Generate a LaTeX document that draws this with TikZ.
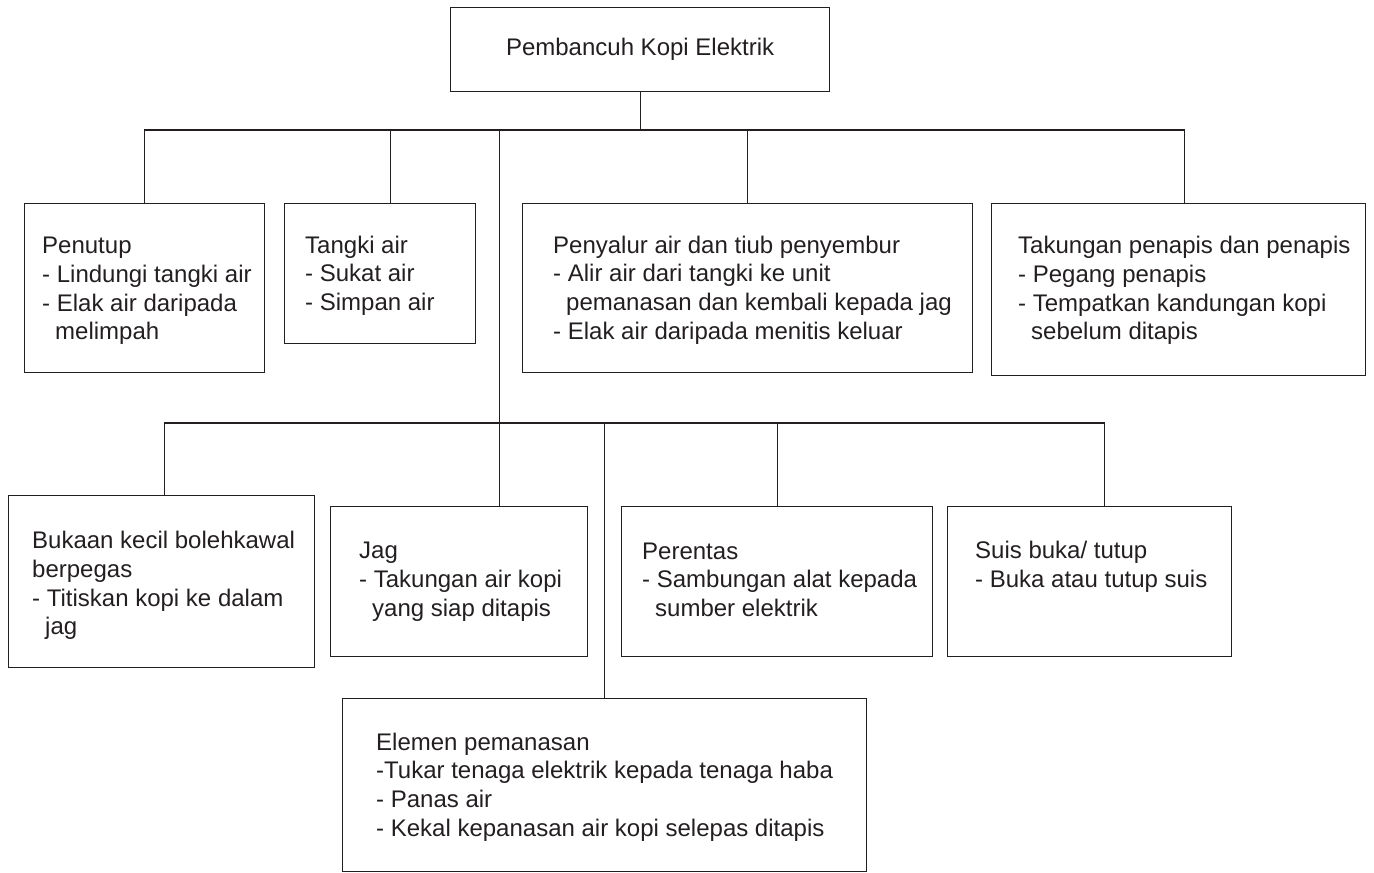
\documentclass[tikz,border=0pt]{standalone}
\usepackage{fontspec}
\setmainfont{Liberation Sans}
\usetikzlibrary{calc}
\definecolor{ink}{HTML}{231F20}
\newcommand{\lineind}{\hspace*{13pt}}

\begin{document}
\begin{tikzpicture}[
    x=1pt, y=-1pt,
    box/.style={rectangle, draw=ink, line width=1.2pt, anchor=north west, inner sep=0pt},
    txt/.style={anchor=west, align=left, text=ink, inner sep=0pt, font=\fontsize{24}{28.7}\selectfont},
    link/.style={draw=ink, line width=1.2pt}
]
\useasboundingbox (0,0) rectangle (1374,873);

% ROOT
\node[box, minimum width=379, minimum height=84] (root) at (450,7) {};
\node[txt, anchor=center] (rootText) at (root.center) {Pembancuh Kopi Elektrik};

% Top row of parts
\node[box, minimum width=240, minimum height=169] (penutup) at (24,203) {};
\node[box, minimum width=191, minimum height=140] (tangki) at (284,203) {};
\node[box, minimum width=450, minimum height=169] (penyalur) at (522,203) {};
\node[box, minimum width=374, minimum height=172] (takungan) at (991,203) {};

% Bottom row of parts
\node[box, minimum width=306, minimum height=172] (bukaan) at (8,495) {};
\node[box, minimum width=257, minimum height=150] (jag) at (330,506) {};
\node[box, minimum width=311, minimum height=150] (perentas) at (621,506) {};
\node[box, minimum width=284, minimum height=150] (suis) at (947,506) {};
\node[box, minimum width=524, minimum height=173] (elemen) at (342,698) {};

% Texts inside the boxes
\node[txt] (penutupText) at ($(penutup.west)+(18,3)$) {Penutup\\- Lindungi tangki air\\- Elak air daripada\\\lineind melimpah};
\node[txt] (tangkiText) at ($(tangki.west)+(21,2)$) {Tangki air\\- Sukat air\\- Simpan air};
\node[txt] (penyalurText) at ($(penyalur.west)+(31,2)$) {Penyalur air dan tiub penyembur\\- Alir air dari tangki ke unit\\\lineind pemanasan dan kembali kepada jag\\- Elak air daripada menitis keluar};
\node[txt] (takunganText) at ($(takungan.west)+(27,1)$) {Takungan penapis dan penapis\\- Pegang penapis\\- Tempatkan kandungan kopi\\\lineind sebelum ditapis};
\node[txt] (bukaanText) at ($(bukaan.west)+(24,4)$) {Bukaan kecil bolehkawal\\berpegas\\- Titiskan kopi ke dalam\\\lineind jag};
\node[txt] (jagText) at ($(jag.west)+(29,0)$) {Jag\\- Takungan air kopi\\\lineind yang siap ditapis};
\node[txt] (perentasText) at ($(perentas.west)+(21,-2)$) {Perentas\\- Sambungan alat kepada\\\lineind sumber elektrik};
\node[txt] (suisText) at ($(suis.west)+(28,-15)$) {Suis buka/ tutup\\- Buka atau tutup suis};
\node[txt] (elemenText) at ($(elemen.west)+(34,2)$) {Elemen pemanasan\\-Tukar tenaga elektrik kepada tenaga haba\\- Panas air\\- Kekal kepanasan air kopi selepas ditapis};

% Bus lines
\coordinate (busTop) at (0,130);
\coordinate (busBot) at (0,423);
\coordinate (tangkiIn) at ($(tangki.north)+(10.5,0)$);
\coordinate (takunganIn) at ($(takungan.north)+(6,0)$);
\coordinate (jagIn) at ($(jag.north)+(40.5,0)$);
\coordinate (bukaanIn) at ($(bukaan.north)+(3,0)$);
\coordinate (suisIn) at ($(suis.north)+(14.5,0)$);

% Root to top row
\draw[link] (root.south) -- (root.south |- busTop);
\draw[link] (penutup.north) -- (penutup.north |- busTop) -- (takunganIn |- busTop) -- (takunganIn);
\draw[link] (tangkiIn) -- (tangkiIn |- busTop);
\draw[link] (penyalur.north) -- (penyalur.north |- busTop);

% Spine down to bottom row
\draw[link] (jagIn) -- (jagIn |- busTop);
\draw[link] (bukaanIn) -- (bukaanIn |- busBot) -- (suisIn |- busBot) -- (suisIn);
\draw[link] (perentas.north) -- (perentas.north |- busBot);
\draw[link] (elemen.north) -- (elemen.north |- busBot);

\end{tikzpicture}
\end{document}
